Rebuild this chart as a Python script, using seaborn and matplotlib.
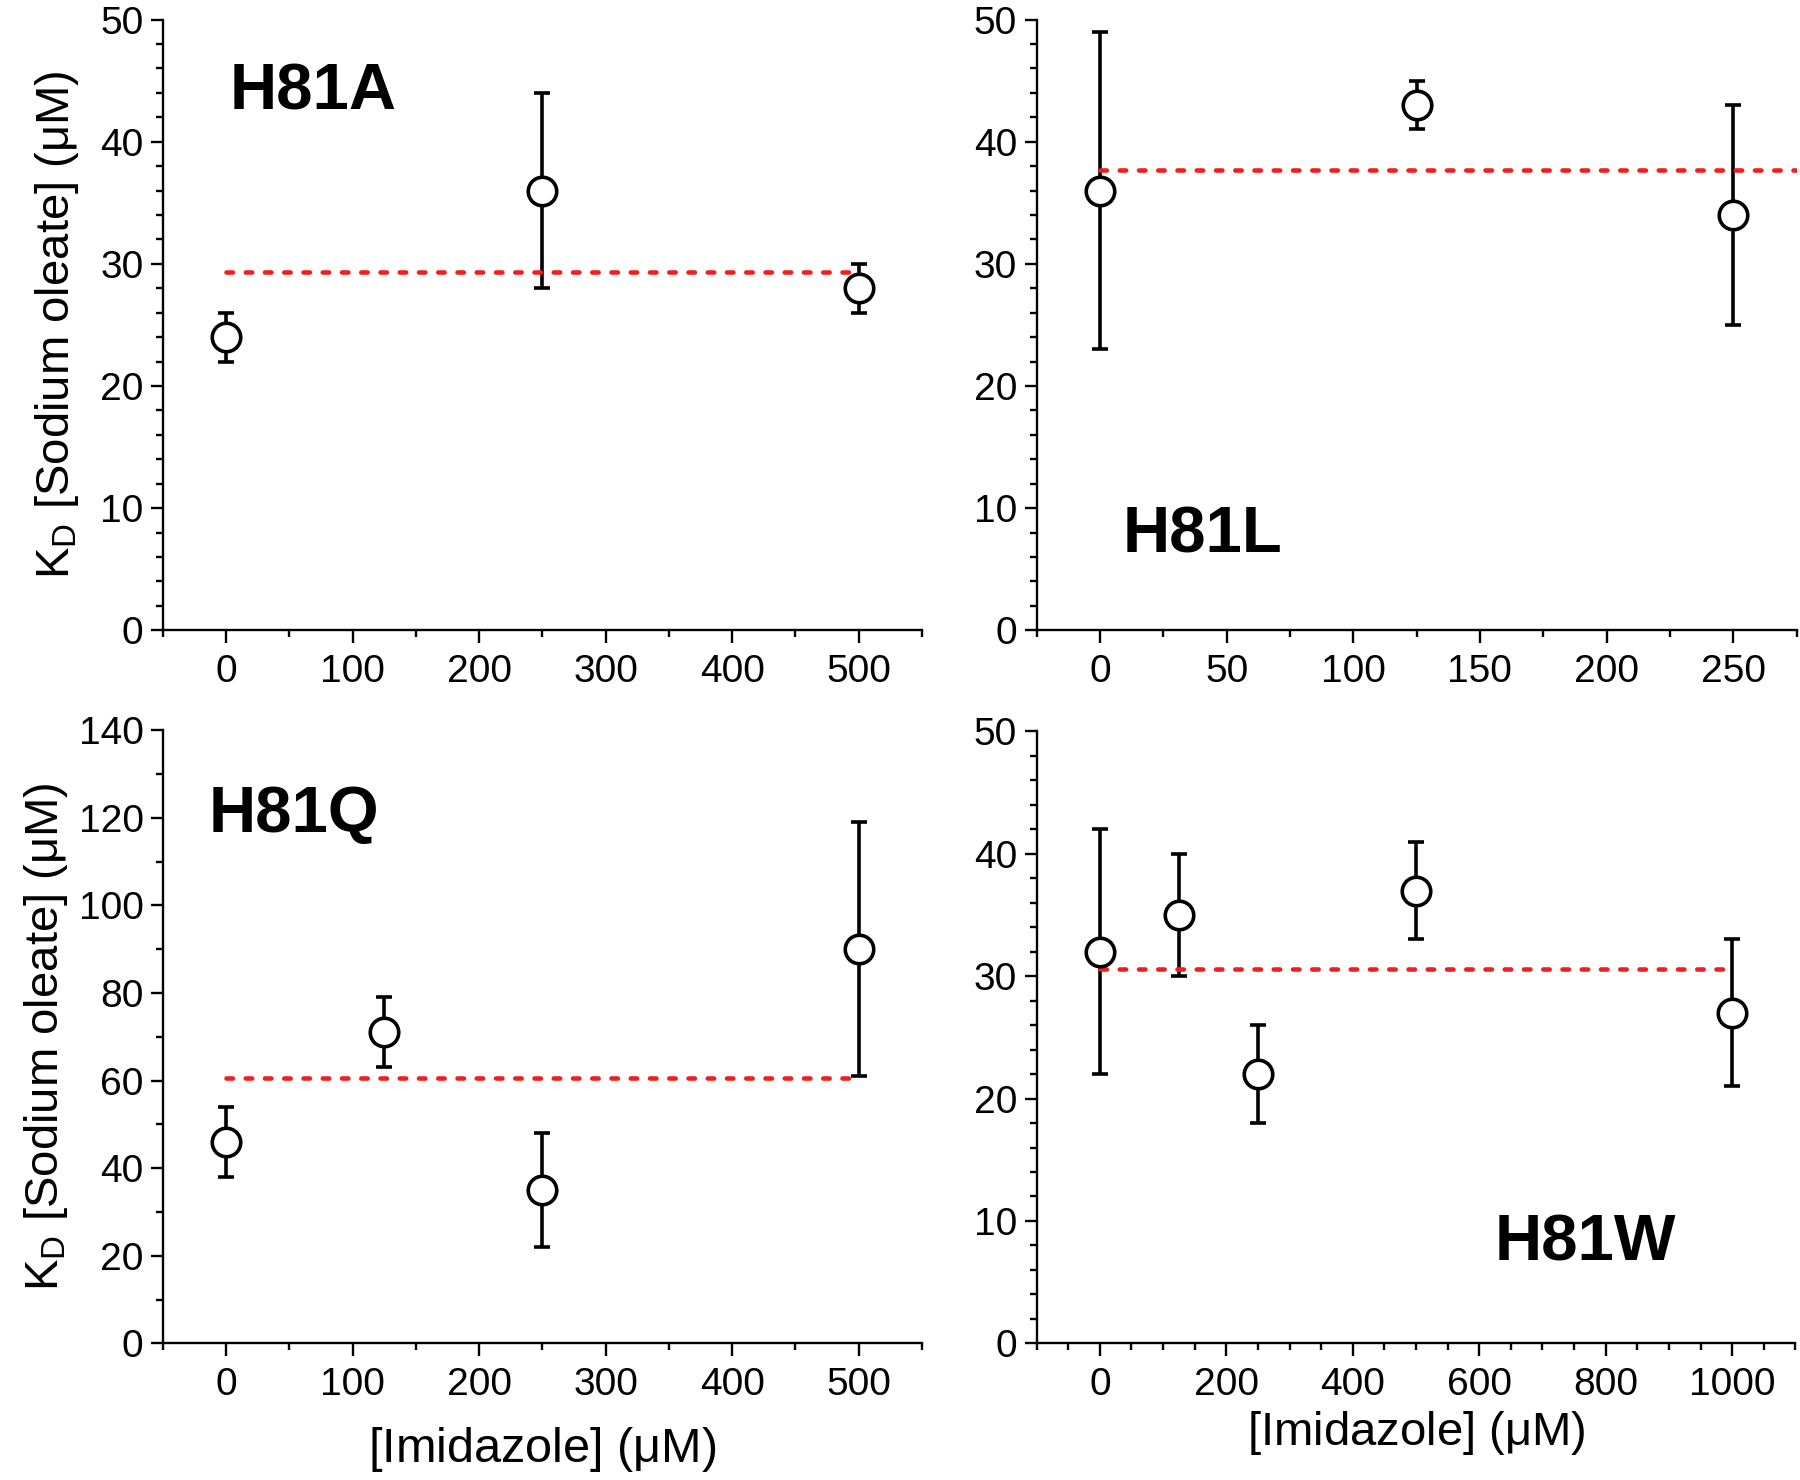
import numpy as np
import pandas as pd
import matplotlib
matplotlib.use("Agg")
import matplotlib.pyplot as plt
from matplotlib.ticker import MultipleLocator
import seaborn as sns

# ---------------- data ----------------
a_x = [0, 250, 500]
a_y = [24, 36, 28]
a_err = [2, 8, 2]

l_x = [0, 125, 250]
l_y = [36, 43, 34]
l_err = [13, 2, 9]

q_x = [0, 125, 250, 500]
q_y = [46, 71, 35, 90]
q_err = [8, 8, 13, 29]

w_x = [0, 125, 250, 500, 1000]
w_y = [32, 35, 22, 37, 27]
w_err = [10, 5, 4, 4, 6]

labels = ["H81A", "H81L", "H81Q", "H81W"]
ylabel = r"K$_\mathregular{D}$ [Sodium oleate] ($\mathregular{\mu}$M)"
xlabel = r"[Imidazole] ($\mathregular{\mu}$M)"

sns.set_theme(style="ticks")
plt.rcParams["font.family"] = ["Liberation Sans", "DejaVu Sans"]
plt.rcParams["mathtext.fontset"] = "custom"
plt.rcParams["mathtext.rm"] = "Liberation Sans"
plt.rcParams["text.color"] = "black"
plt.rcParams["axes.labelcolor"] = "black"

fig = plt.figure(figsize=(18, 14.8), dpi=100)

W = 1568.0
H = 1289.0
def rect(l, r, t, b):
    return [l / W, 1 - b / H, (r - l) / W, (b - t) / H]

axA = fig.add_axes(rect(142, 803, 17, 549))
axL = fig.add_axes(rect(903, 1565, 17, 549))
axQ = fig.add_axes(rect(142, 803, 636, 1170))
axW = fig.add_axes(rect(903, 1564, 637, 1170))

fam = ["Liberation Sans", "DejaVu Sans"]

panels = [
    (axA, a_x, a_y, a_err, (-50, 550), (0, 50), 100, 50, 10, 2, (0, 500), labels[0], (0.088, 0.88)),
    (axL, l_x, l_y, l_err, (-25, 275), (0, 50), 50, 25, 10, 2, (0, 275), labels[1], (0.113, 0.156)),
    (axQ, q_x, q_y, q_err, (-50, 550), (0, 140), 100, 50, 20, 10, (0, 495), labels[2], (0.06, 0.861)),
    (axW, w_x, w_y, w_err, (-100, 1100), (0, 50), 200, 50, 10, 2, (0, 995), labels[3], (0.603, 0.163)),
]

red = "#f01e1e"
for ax, xs, ys, es, xl, yl, xmaj, xmin, ymaj, ymin, lx, lab, tpos in panels:
    df = pd.DataFrame({"x": xs, "y": ys, "e": es})
    ax.errorbar(df["x"], df["y"], yerr=df["e"], fmt="none", ecolor="black",
                elinewidth=2.6, capsize=6, capthick=2.6, zorder=2)
    mean = df["y"].mean()
    ax.plot(list(lx), [mean, mean], color=red, lw=3.3, dashes=(1.4, 2.8),
            zorder=3, dash_capstyle="round")
    sns.scatterplot(data=df, x="x", y="y", ax=ax, marker="o", s=20.5 ** 2,
                    facecolor="white", edgecolor="black", linewidth=2.6, zorder=4,
                    legend=False)
    ax.set_xlim(*xl)
    ax.set_ylim(*yl)
    ax.xaxis.set_major_locator(MultipleLocator(xmaj))
    ax.xaxis.set_minor_locator(MultipleLocator(xmin))
    ax.yaxis.set_major_locator(MultipleLocator(ymaj))
    ax.yaxis.set_minor_locator(MultipleLocator(ymin))
    ax.set_xticks([t for t in ax.get_xticks() if xl[0] <= t <= xl[1]])
    ax.spines["top"].set_visible(False)
    ax.spines["right"].set_visible(False)
    for s in ("left", "bottom"):
        ax.spines[s].set_linewidth(1.7)
        ax.spines[s].set_color("black")
    ax.tick_params(which="major", direction="out", length=9, width=1.7, color="black",
                   labelsize=28, pad=5, labelcolor="black")
    ax.tick_params(axis="x", which="major", pad=8)
    ax.tick_params(which="minor", direction="out", length=5, width=1.7, color="black")
    ax.set_xlabel("")
    ax.set_ylabel("")
    ax.text(tpos[0], tpos[1], lab, transform=ax.transAxes, ha="left", va="center",
            fontsize=47, fontweight="bold", family=fam, color="black")
    ax.set_facecolor("white")

axA.set_ylabel(ylabel, fontsize=34, labelpad=14, color="black")
axQ.set_ylabel(ylabel, fontsize=34, labelpad=6, color="black")
axQ.set_xlabel(xlabel, fontsize=35, labelpad=16, color="black")
axW.set_xlabel(xlabel, fontsize=34, labelpad=4, color="black")

fig.savefig("out.png", dpi=100, facecolor="white")
